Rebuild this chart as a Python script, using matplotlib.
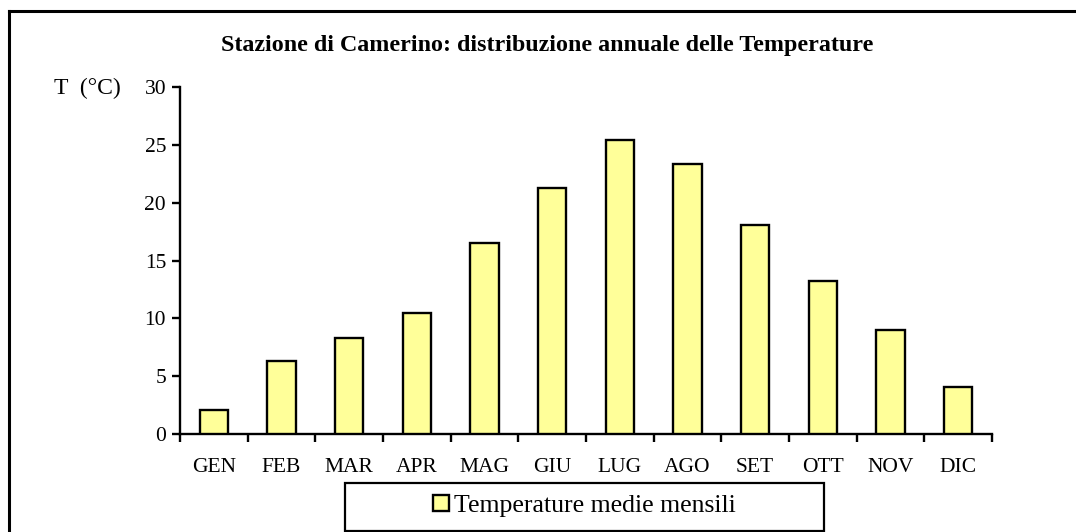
import matplotlib
matplotlib.use("Agg")
import matplotlib.pyplot as plt
from matplotlib.patches import Rectangle, Patch
from matplotlib.lines import Line2D

months = ["GEN", "FEB", "MAR", "APR", "MAG", "GIU", "LUG", "AGO", "SET", "OTT", "NOV", "DIC"]
temps = [2.1, 6.3, 8.3, 10.5, 16.5, 21.3, 25.4, 23.3, 18.1, 13.2, 9.0, 4.1]
yticks = [0, 5, 10, 15, 20, 25, 30]
title = "Stazione di Camerino: distribuzione annuale delle Temperature"
ylabel = "T  (°C)"
series_name = "Temperature medie mensili"

plt.rcParams['font.family'] = ['Liberation Serif', 'DejaVu Serif']

W, H = 1076, 532
fig = plt.figure(figsize=(W / 100, H / 100), dpi=100)
fig.patch.set_facecolor("white")

ax = fig.add_axes([180 / W, 1 - 434 / H, (992 - 180) / W, (434 - 87) / H])
x = list(range(len(months)))
ax.bar(x, temps, width=0.42, color="#FFFF99", edgecolor="black", linewidth=1.7, zorder=3)
ax.set_xlim(-0.5, len(months) - 0.5)
ax.set_ylim(0, 30)
ax.set_yticks(yticks)
ax.set_yticklabels([str(v) for v in yticks], fontsize=15.5)
ax.set_xticks([i - 0.5 for i in range(len(months) + 1)])
ax.set_xticklabels([])
ax.set_xticks(x, minor=True)
ax.set_xticklabels(months, minor=True, fontsize=15.5)
ax.tick_params(axis="x", which="minor", length=0, pad=17)
ax.tick_params(axis="x", which="major", length=6, width=1.7, direction="out")
ax.tick_params(axis="y", length=6, width=1.7, direction="out", pad=4)
for s in ["top", "right"]:
    ax.spines[s].set_visible(False)
for s in ["left", "bottom"]:
    ax.spines[s].set_linewidth(1.7)

fig.text(547 / W, 1 - 45 / H, title, ha="center", va="center", fontsize=17.3, fontweight="bold")
fig.text(87 / W, 1 - 88 / H, ylabel, ha="center", va="center", fontsize=17)

# outer frame
fig.add_artist(Line2D([9 / W, 9 / W], [0, 1 - 11 / H], color="black", lw=2.2, transform=fig.transFigure))
fig.add_artist(Line2D([9 / W, 1], [1 - 11 / H, 1 - 11 / H], color="black", lw=2.2, transform=fig.transFigure))

# legend box
fig.add_artist(Rectangle((345 / W, 1 - 531 / H), (824 - 345) / W, (531 - 483) / H,
                         transform=fig.transFigure, fill=False, edgecolor="black", lw=1.6))
handle = Patch(facecolor="#FFFF99", edgecolor="black", linewidth=1.7)
fig.legend([handle], [series_name], loc="center", bbox_to_anchor=(584 / W, 1 - 506 / H),
           frameon=False, fontsize=18.5, handlelength=0.62, handleheight=0.62, handletextpad=0.2,
           borderpad=0, borderaxespad=0)

fig.savefig("out.png", dpi=100)
